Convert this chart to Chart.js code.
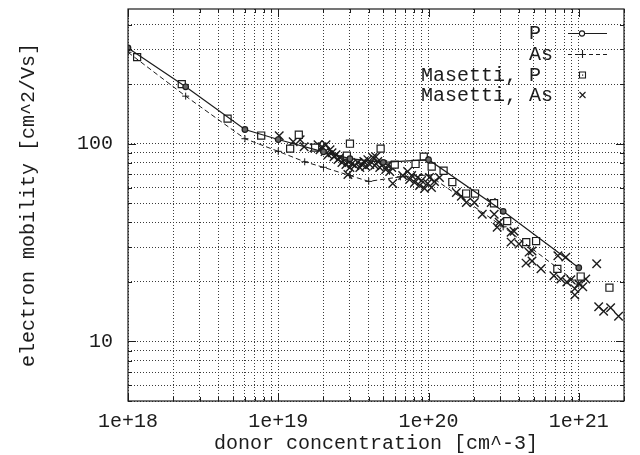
<!DOCTYPE html>
<html>
<head>
<meta charset="utf-8">
<script src="https://cdn.jsdelivr.net/npm/chart.js@4/dist/chart.umd.min.js"></script>
<style>
  body { margin: 0; background: #fff; }
  #graph { display: block; }
</style>
</head>
<body>
<canvas id="graph" width="640" height="455"></canvas>
<script>
// model curves (donor concentration in cm^-3, mobility in cm^2/Vs)
const pN = [1e18, 2.42e18, 6e18, 1e19, 2e19, 3e19, 5e19, 1e20, 3.14e20, 1e21];
const pMu = [305, 194, 118, 105, 91, 84, 80.5, 83, 45.5, 23.6];

const asN = [1e18, 2.42e18, 6e18, 1e19, 1.5e19, 2e19, 3e19, 4e19, 6.5e19, 1e20, 3.14e20, 1e21];
const asMu = [290, 174, 106, 91.5, 81, 76, 69, 64.5, 68, 69.5, 38, 19.5];

// Masetti measurements
const mpN = [1.15e18, 2.28e18, 4.6e18, 7.7e18, 1.2e19, 1.37e19, 1.76e19, 2.86e19, 3.0e19, 4.8e19,
  5.96e19, 8.2e19, 9.3e19, 1.05e20, 1.26e20, 1.44e20, 1.78e20, 2.04e20, 2.73e20, 3.34e20,
  4.47e20, 5.2e20, 7.2e20, 1.03e21, 1.6e21];
const mpMu = [274, 200, 134, 110, 94.4, 111, 95.5, 87, 100, 94.4,
  78.4, 79, 86, 76.6, 73, 64, 56, 56, 50, 40.6,
  31.8, 32.2, 23.3, 21.3, 18.7];

const maN = [1.015e19, 1.257e19, 1.399e19, 1.487e19, 1.731e19, 1.84e19, 1.897e19, 1.956e19, 2.048e19, 2.079e19,
  2.144e19, 2.21e19, 2.279e19, 2.349e19, 2.422e19, 2.497e19, 2.574e19, 2.653e19, 2.736e19, 2.82e19,
  2.908e19, 2.998e19, 3.091e19, 3.235e19, 3.387e19, 3.492e19, 3.6e19, 3.711e19, 3.826e19, 3.945e19,
  4.067e19, 4.257e19, 4.389e19, 4.595e19, 4.737e19, 4.958e19, 5.19e19, 5.35e19, 5.52e19, 5.69e19,
  4.457e19, 5.78e19, 2.908e19, 6.73e19, 7.26e19, 7.48e19, 7.72e19, 8.08e19, 8.46e19, 8.72e19,
  8.99e19, 9.41e19, 9.85e19, 1.015e20, 1.047e20, 1.096e20, 1.183e20, 1.532e20, 1.654e20, 1.785e20,
  2.017e20, 2.279e20, 2.614e20, 2.736e20, 2.953e20, 2.864e20, 3.546e20, 3.711e20, 3.546e20, 4.005e20,
  4.667e20, 4.885e20, 4.457e20, 4.885e20, 5.6e20, 7.26e20, 8.2e20, 6.83e20, 7.6e20, 8.33e20,
  8.85e20, 9.41e20, 1.0e21, 1.063e21, 1.113e21, 9.41e20, 1.316e21, 1.357e21, 1.464e21, 1.629e21,
  1.84e21];
const maMu = [109.7, 102.3, 104.7, 96.6, 95.5, 98.9, 93.3, 96.6, 91.2, 98.9,
  88.0, 93.3, 90.1, 86.0, 88.0, 83.1, 85.1, 80.3, 83.1, 78.4,
  81.2, 75.8, 79.3, 77.5, 80.3, 75.8, 78.4, 81.2, 76.6, 83.1,
  78.4, 85.1, 77.5, 81.2, 75.8, 78.4, 74.0, 77.5, 72.3, 75.8,
  86.0, 63.0, 69.9, 69.1, 72.3, 65.9, 69.1, 63.7, 67.5, 61.5,
  65.2, 59.4, 63.0, 67.5, 60.1, 64.4, 67.5, 56.7, 54.2, 50.5,
  50.5, 44.0, 50.5, 44.0, 40.1, 37.8, 35.7, 36.1, 31.8, 31.1,
  28.3, 28.7, 24.9, 25.5, 23.3, 27.1, 26.7, 21.5, 20.7, 20.0,
  20.5, 18.5, 19.6, 18.9, 20.7, 17.2, 24.7, 15.0, 14.2, 14.8,
  13.4];

const xTickValues = [1e18, 1e19, 1e20, 1e21];
const xTickLabels = ["1e+18", "1e+19", "1e+20", "1e+21"];
const yTickValues = [10, 100];
const yTickLabels = ["10", "100"];

const xRange = [1e18, 2e21];
const yRange = [5, 480];

const ink = "#1c1c1c";
const toPoints = (xs, ys) => xs.map((x, i) => ({ x, y: ys[i] }));

// 1..9 x 10^e ticks inside the range (gnuplot style log grid)
const logTicks = (min, max) => {
  const out = [];
  for (let e = Math.floor(Math.log10(min)); e <= Math.ceil(Math.log10(max)); e++) {
    for (let m = 1; m <= 9; m++) {
      const v = m * Math.pow(10, e);
      if (v >= min * 0.999 && v <= max * 1.001) out.push({ value: v, major: m === 1 });
    }
  }
  return out;
};

const labelFor = (values, labels) => (v) => {
  const i = values.findIndex((t) => Math.abs(v / t - 1) < 1e-9);
  return i >= 0 ? labels[i] : "";
};

Chart.defaults.font.family = "'Liberation Mono', 'DejaVu Sans Mono', monospace";
Chart.defaults.font.size = 20;
Chart.defaults.color = ink;

// frame with inward ticks on all four sides, plus the key
const frameAndKey = {
  id: "frameAndKey",
  afterDraw: (chart) => {
    const { ctx, chartArea: a } = chart;
    const xs = chart.scales.x;
    const ys = chart.scales.y;
    ctx.save();
    ctx.strokeStyle = ink;
    ctx.lineWidth = 1.2;
    ctx.setLineDash([]);
    ctx.strokeRect(a.left, a.top, a.right - a.left, a.bottom - a.top);

    ctx.lineWidth = 1;
    ctx.beginPath();
    xs.ticks.forEach((t) => {
      const px = Math.round(xs.getPixelForValue(t.value)) + 0.5;
      const len = t.major ? 8 : 4;
      ctx.moveTo(px, a.bottom); ctx.lineTo(px, a.bottom - len);
      ctx.moveTo(px, a.top); ctx.lineTo(px, a.top + len);
    });
    ys.ticks.forEach((t) => {
      const py = Math.round(ys.getPixelForValue(t.value)) + 0.5;
      const len = t.major ? 8 : 4;
      ctx.moveTo(a.left, py); ctx.lineTo(a.left + len, py);
      ctx.moveTo(a.right, py); ctx.lineTo(a.right - len, py);
    });
    ctx.stroke();

    // key
    const rows = [34, 55, 76, 96];
    ctx.font = "20px 'Liberation Mono', 'DejaVu Sans Mono', monospace";
    ctx.fillStyle = ink;
    ctx.textBaseline = "middle";
    ctx.textAlign = "left";
    chart.data.datasets.forEach((ds, i) => {
      const y = rows[i];
      const tx = ds.label.startsWith("Masetti") ? 421 : 529;
      ctx.fillText(ds.label, tx, y);
      const sy = y - 1;
      ctx.strokeStyle = ink;
      ctx.lineWidth = 1.1;
      if (i < 2) {
        ctx.setLineDash(i === 1 ? [4, 3] : []);
        ctx.beginPath(); ctx.moveTo(568, sy + 0.5); ctx.lineTo(607, sy + 0.5); ctx.stroke();
        ctx.setLineDash([]);
      }
      ctx.beginPath();
      if (i === 0) {
        ctx.arc(582, sy + 0.5, 2.6, 0, Math.PI * 2);
        ctx.fillStyle = "#fff"; ctx.fill(); ctx.stroke();
        ctx.fillStyle = ink;
      } else if (i === 1) {
        ctx.moveTo(578, sy + 0.5); ctx.lineTo(586, sy + 0.5);
        ctx.moveTo(582.5, sy - 4); ctx.lineTo(582.5, sy + 4);
        ctx.stroke();
      } else if (i === 2) {
        ctx.rect(579.5, sy - 3, 6, 6); ctx.stroke();
        ctx.fillRect(582, sy - 0.5, 1.2, 1.2);
      } else {
        ctx.moveTo(579.5, sy - 3); ctx.lineTo(585.5, sy + 3);
        ctx.moveTo(585.5, sy - 3); ctx.lineTo(579.5, sy + 3);
        ctx.stroke();
      }
    });
    ctx.restore();
  },
};

new Chart(document.getElementById("graph"), {
  type: "scatter",
  data: {
    datasets: [
      {
        label: "P",
        data: toPoints(pN, pMu),
        showLine: true,
        borderColor: ink,
        borderWidth: 1.2,
        pointStyle: "circle",
        pointRadius: 2.8,
        pointBorderWidth: 1.2,
        pointBackgroundColor: "#666",
        pointBorderColor: ink,
      },
      {
        label: "As",
        data: toPoints(asN, asMu),
        showLine: true,
        borderColor: ink,
        borderWidth: 1,
        borderDash: [5, 3],
        pointStyle: "cross",
        pointRadius: 3.5,
        pointBorderWidth: 1,
        pointBorderColor: ink,
      },
      {
        label: "Masetti, P",
        data: toPoints(mpN, mpMu),
        pointStyle: "rect",
        pointRadius: 5,
        pointBorderWidth: 1.2,
        pointBackgroundColor: "#fff",
        pointBorderColor: ink,
      },
      {
        label: "Masetti, As",
        data: toPoints(maN, maMu),
        pointStyle: "crossRot",
        pointRadius: 6,
        pointBorderWidth: 1.4,
        pointBorderColor: ink,
      },
    ],
  },
  options: {
    responsive: false,
    animation: false,
    layout: { padding: { left: 0, right: 16, top: 9, bottom: 0 } },
    scales: {
      x: {
        type: "logarithmic",
        min: xRange[0],
        max: xRange[1],
        afterBuildTicks: (scale) => { scale.ticks = logTicks(xRange[0], xRange[1]); },
        afterFit: (scale) => {
          scale.height = 54;
          scale.paddingLeft = 0;
          scale.paddingRight = 0;
        },
        ticks: {
          autoSkip: false,
          maxRotation: 0,
          padding: 9,
          color: ink,
          callback: labelFor(xTickValues, xTickLabels),
        },
        grid: { color: "#3a3a3a", lineWidth: 1, drawTicks: false },
        border: { display: false, dash: [1, 2] },
        title: {
          display: true,
          text: "donor concentration [cm^-3]",
          color: ink,
          font: { size: 20, lineHeight: 1 },
          padding: { top: 0, bottom: 1 },
        },
      },
      y: {
        type: "logarithmic",
        min: yRange[0],
        max: yRange[1],
        afterBuildTicks: (scale) => { scale.ticks = logTicks(yRange[0], yRange[1]); },
        afterFit: (scale) => {
          scale.width = 128;
          scale.paddingTop = 0;
          scale.paddingBottom = 0;
        },
        ticks: {
          autoSkip: false,
          padding: 15,
          color: ink,
          callback: labelFor(yTickValues, yTickLabels),
        },
        grid: { color: "#3a3a3a", lineWidth: 1, drawTicks: false },
        border: { display: false, dash: [1, 2] },
        title: {
          display: true,
          text: "electron mobility [cm^2/Vs]",
          color: ink,
          font: { size: 20, lineHeight: 1.2 },
          padding: { top: 17, bottom: 0 },
        },
      },
    },
    plugins: {
      legend: { display: false },
      tooltip: { enabled: false },
    },
  },
  plugins: [frameAndKey],
});
</script>
</body>
</html>
